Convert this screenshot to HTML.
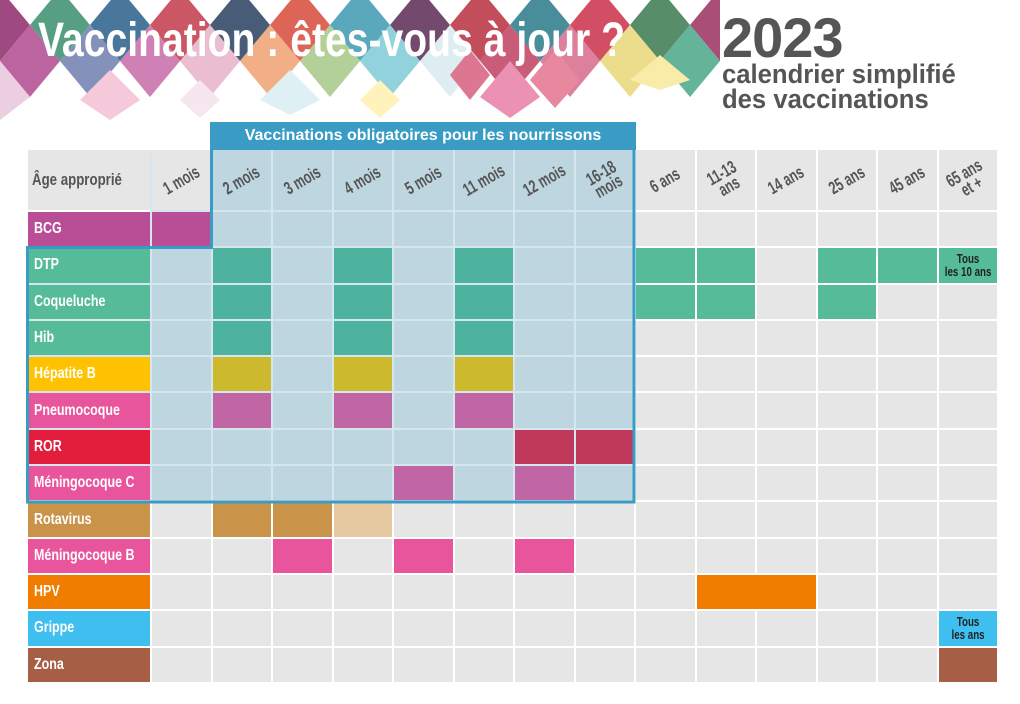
<!DOCTYPE html>
<html><head><meta charset="utf-8">
<style>
*{margin:0;padding:0;box-sizing:border-box}
body{width:1020px;height:704px;background:#fff;position:relative;overflow:hidden;font-family:"Liberation Sans",sans-serif;font-weight:bold}
#grid{position:absolute;left:28px;top:150px;display:grid;grid-template-columns:122px repeat(14,58.5px);grid-template-rows:60px repeat(13,34.3px);gap:2px}
#grid>div{display:flex;align-items:center}
.h{background:#e6e6e6;justify-content:center;color:#555;font-size:18px}
.h span{transform:rotate(-30deg) scaleX(.68);display:block;text-align:center;line-height:15px;white-space:nowrap}
.hb{background:#bdd6e0}
.h0{justify-content:flex-start!important;padding-left:4px}
.h0 b{display:inline-block;transform:scaleX(.78);transform-origin:left;white-space:nowrap;font-size:17px}
.L{color:#fff;font-size:16px;padding-left:6px}
.L b{display:inline-block;transform:scaleX(.78);transform-origin:left;white-space:nowrap}
.g{background:#e6e6e6}.b{background:#bdd6e0}
.bcg{background:#b94e96}.grn{background:#56bb98}.gd{background:#4db39e}
.yl{background:#fec200}.yd{background:#cdb92e}
.pk{background:#e9559c}.pd{background:#c066a4}
.rl{background:#e31d3c}.rd{background:#c0385a}
.ro{background:#c9944a}.rol{background:#e6c9a0}
.or{background:#f07d00}.cy{background:#3fbfef}.zn{background:#a65f45}
.t{justify-content:center;text-align:center;font-size:13px;line-height:13px;color:#222}
.t b{display:inline-block;transform:scaleX(.75);white-space:nowrap}
#zbg{position:absolute;left:150px;top:150px;width:484px;height:352px;background:#d5e6ee}
</style></head><body>
<svg width="720" height="125" style="position:absolute;left:0;top:0">
<g opacity="0.85">
<polygon points="0,-11 30,25 0,61 -30,25" fill="#8e2b6a"/>
<polygon points="60,-11 90,25 60,61 30,25" fill="#3a8f6e"/>
<polygon points="120,-11 150,25 120,61 90,25" fill="#2a5f8a"/>
<polygon points="180,-11 210,25 180,61 150,25" fill="#c23a4a"/>
<polygon points="240,-11 270,25 240,61 210,25" fill="#2a4060"/>
<polygon points="300,-11 330,25 300,61 270,25" fill="#d84b3a"/>
<polygon points="360,-11 390,25 360,61 330,25" fill="#3d9ab0"/>
<polygon points="420,-11 450,25 420,61 390,25" fill="#5c2a55"/>
<polygon points="480,-11 510,25 480,61 450,25" fill="#b83040"/>
<polygon points="540,-11 570,25 540,61 510,25" fill="#2a7a8a"/>
<polygon points="600,-11 630,25 600,61 570,25" fill="#c9304a"/>
<polygon points="660,-11 690,25 660,61 630,25" fill="#3a7a50"/>
<polygon points="720,-11 750,25 720,61 690,25" fill="#9a3060"/>
<polygon points="30,25 60,61 30,97 0,61" fill="#b04a90"/>
<polygon points="90,25 120,61 90,97 60,61" fill="#6f7fb0"/>
<polygon points="150,25 180,61 150,97 120,61" fill="#c76aa8"/>
<polygon points="210,25 240,61 210,97 180,61" fill="#e7b3c8"/>
<polygon points="270,25 300,61 270,97 240,61" fill="#f0a070"/>
<polygon points="330,25 360,61 330,97 300,61" fill="#a8c888"/>
<polygon points="390,25 420,61 390,97 360,61" fill="#7fcbd8"/>
<polygon points="450,25 480,61 450,97 420,61" fill="#d9eaf0"/>
<polygon points="510,25 540,61 510,97 480,61" fill="#c04060"/>
<polygon points="570,25 600,61 570,97 540,61" fill="#d86a8a"/>
<polygon points="630,25 660,61 630,97 600,61" fill="#e8d878"/>
<polygon points="690,25 720,61 690,97 660,61" fill="#4aa888"/>
<polygon points="0,61 30,97 0,120 -30,97" fill="#e9c6dc"/>
<polygon points="110,70 140,100 110,120 80,100" fill="#f5c0d4"/>
<polygon points="290,70 320,100 290,115 260,100" fill="#d9eef2"/>
<polygon points="200,80 220,100 200,118 180,100" fill="#f5e2ec"/>
<polygon points="380,80 400,100 380,118 360,100" fill="#fff0b0"/>
<polygon points="510,61 540,97 510,118 480,97" fill="#e880a8"/>
<polygon points="470,50 490,75 470,100 450,75" fill="#d85f7e"/>
<polygon points="555,50 580,80 555,108 530,80" fill="#e4748f"/>
<polygon points="660,55 690,80 660,90 630,80" fill="#f8e89a"/>
</g>
<text x="38" y="56" fill="#fff" font-family="Liberation Sans, sans-serif" font-weight="bold" font-size="48" textLength="587" lengthAdjust="spacingAndGlyphs">Vaccination : êtes-vous à jour ?</text>
</svg>
<div style="position:absolute;left:722px;top:8px;color:#555;font-size:56px;line-height:60px;letter-spacing:-1px">2023</div>
<div style="position:absolute;left:722px;top:62px;color:#555;font-size:27px;line-height:25px;transform:scaleX(.95);transform-origin:left;white-space:nowrap">calendrier simplifié<br>des vaccinations</div>
<div style="position:absolute;left:210px;top:122px;width:426px;height:28px;background:#3a9cc4;color:#fff;font-size:16px;text-align:center;line-height:28px">Vaccinations obligatoires pour les nourrissons</div>
<div id="zbg"></div>
<div style="position:absolute;left:28px;top:246px;width:124px;height:256px;background:#d5e6ee"></div>
<div id="grid">
<div class="h h0"><b>Âge approprié</b></div>
<div class="h"><span>1 mois</span></div>
<div class="h hb"><span>2 mois</span></div>
<div class="h hb"><span>3 mois</span></div>
<div class="h hb"><span>4 mois</span></div>
<div class="h hb"><span>5 mois</span></div>
<div class="h hb"><span>11 mois</span></div>
<div class="h hb"><span>12 mois</span></div>
<div class="h hb"><span>16-18<br>mois</span></div>
<div class="h"><span>6 ans</span></div>
<div class="h"><span>11-13<br>ans</span></div>
<div class="h"><span>14 ans</span></div>
<div class="h"><span>25 ans</span></div>
<div class="h"><span>45 ans</span></div>
<div class="h"><span>65 ans<br>et +</span></div>

<div class="L bcg"><b>BCG</b></div><div class="bcg"></div><div class="b"></div><div class="b"></div><div class="b"></div><div class="b"></div><div class="b"></div><div class="b"></div><div class="b"></div><div class="g"></div><div class="g"></div><div class="g"></div><div class="g"></div><div class="g"></div><div class="g"></div>

<div class="L grn"><b>DTP</b></div><div class="b"></div><div class="gd"></div><div class="b"></div><div class="gd"></div><div class="b"></div><div class="gd"></div><div class="b"></div><div class="b"></div><div class="grn"></div><div class="grn"></div><div class="g"></div><div class="grn"></div><div class="grn"></div><div class="grn t"><b>Tous<br>les 10 ans</b></div>

<div class="L grn"><b>Coqueluche</b></div><div class="b"></div><div class="gd"></div><div class="b"></div><div class="gd"></div><div class="b"></div><div class="gd"></div><div class="b"></div><div class="b"></div><div class="grn"></div><div class="grn"></div><div class="g"></div><div class="grn"></div><div class="g"></div><div class="g"></div>

<div class="L grn"><b>Hib</b></div><div class="b"></div><div class="gd"></div><div class="b"></div><div class="gd"></div><div class="b"></div><div class="gd"></div><div class="b"></div><div class="b"></div><div class="g"></div><div class="g"></div><div class="g"></div><div class="g"></div><div class="g"></div><div class="g"></div>

<div class="L yl"><b>Hépatite B</b></div><div class="b"></div><div class="yd"></div><div class="b"></div><div class="yd"></div><div class="b"></div><div class="yd"></div><div class="b"></div><div class="b"></div><div class="g"></div><div class="g"></div><div class="g"></div><div class="g"></div><div class="g"></div><div class="g"></div>

<div class="L pk"><b>Pneumocoque</b></div><div class="b"></div><div class="pd"></div><div class="b"></div><div class="pd"></div><div class="b"></div><div class="pd"></div><div class="b"></div><div class="b"></div><div class="g"></div><div class="g"></div><div class="g"></div><div class="g"></div><div class="g"></div><div class="g"></div>

<div class="L rl"><b>ROR</b></div><div class="b"></div><div class="b"></div><div class="b"></div><div class="b"></div><div class="b"></div><div class="b"></div><div class="rd"></div><div class="rd"></div><div class="g"></div><div class="g"></div><div class="g"></div><div class="g"></div><div class="g"></div><div class="g"></div>

<div class="L pk"><b>Méningocoque C</b></div><div class="b"></div><div class="b"></div><div class="b"></div><div class="b"></div><div class="pd"></div><div class="b"></div><div class="pd"></div><div class="b"></div><div class="g"></div><div class="g"></div><div class="g"></div><div class="g"></div><div class="g"></div><div class="g"></div>

<div class="L ro"><b>Rotavirus</b></div><div class="g"></div><div class="ro"></div><div class="ro"></div><div class="rol"></div><div class="g"></div><div class="g"></div><div class="g"></div><div class="g"></div><div class="g"></div><div class="g"></div><div class="g"></div><div class="g"></div><div class="g"></div><div class="g"></div>

<div class="L pk"><b>Méningocoque B</b></div><div class="g"></div><div class="g"></div><div class="pk"></div><div class="g"></div><div class="pk"></div><div class="g"></div><div class="pk"></div><div class="g"></div><div class="g"></div><div class="g"></div><div class="g"></div><div class="g"></div><div class="g"></div><div class="g"></div>

<div class="L or"><b>HPV</b></div><div class="g"></div><div class="g"></div><div class="g"></div><div class="g"></div><div class="g"></div><div class="g"></div><div class="g"></div><div class="g"></div><div class="g"></div><div class="or" style="grid-column:span 2"></div><div class="g"></div><div class="g"></div><div class="g"></div>

<div class="L cy"><b>Grippe</b></div><div class="g"></div><div class="g"></div><div class="g"></div><div class="g"></div><div class="g"></div><div class="g"></div><div class="g"></div><div class="g"></div><div class="g"></div><div class="g"></div><div class="g"></div><div class="g"></div><div class="g"></div><div class="cy t"><b>Tous<br>les ans</b></div>

<div class="L zn"><b>Zona</b></div><div class="g"></div><div class="g"></div><div class="g"></div><div class="g"></div><div class="g"></div><div class="g"></div><div class="g"></div><div class="g"></div><div class="g"></div><div class="g"></div><div class="g"></div><div class="g"></div><div class="g"></div><div class="zn"></div>
</div>
<svg width="1020" height="704" style="position:absolute;left:0;top:0">
<path d="M211.5,150 L211.5,247.5 L27.5,247.5 L27.5,502 L634,502 L634,122" fill="none" stroke="#3a9cc4" stroke-width="3"/>
</svg>
</body></html>
